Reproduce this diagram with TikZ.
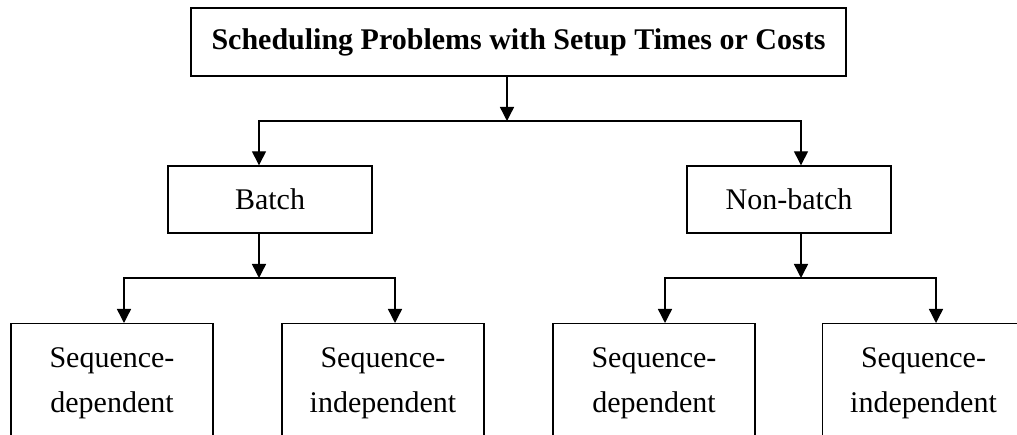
\documentclass[tikz,border=0pt]{standalone}
\usepackage{fontspec}
\setmainfont{Liberation Serif}
\usetikzlibrary{arrows.meta}
\begin{document}
\begin{tikzpicture}[x=1pt,y=-1pt,
  box/.style={draw, line width=1.4pt, inner sep=0pt, align=center, font=\fontsize{30}{45}\selectfont},
  midbox/.style={box, minimum width=204pt, minimum height=67pt},
  leafbox/.style={box, anchor=north, minimum width=202pt, minimum height=120pt},
  arr/.style={line width=1.4pt, -{Triangle[width=14pt,length=14pt]}}]
\useasboundingbox (0,0) rectangle (1017,435);
\clip (0,0) rectangle (1017,435);
% nodes
\node[box, minimum width=655pt, minimum height=68pt, font=\fontsize{30}{36}\selectfont\bfseries] (title) at (518.5,42) {Scheduling Problems with Setup Times or Costs};
\node[midbox] (batch) at (270,199.5) {Batch};
\node[midbox] (nonbatch) at (789,199.5) {Non-batch};
\node[leafbox] (s1) at (112,323) {Sequence-\\dependent};
\node[leafbox] (s2) at (383,323) {Sequence-\\independent};
\node[leafbox] (s3) at (654,323) {Sequence-\\dependent};
\node[leafbox] (s4) at (923.5,323) {Sequence-\\independent};
% junctions and drop positions
\coordinate (j1) at (507,121);
\coordinate (dB) at (259,0);
\coordinate (dN) at (801,0);
\coordinate (j2) at (259,278);
\coordinate (j3) at (801,278);
\coordinate (d1) at (124,0);
\coordinate (d2) at (395,0);
\coordinate (d3) at (665,0);
\coordinate (d4) at (936,0);
% connectors
\draw[arr] (j1 |- title.south) -- (j1);
\draw[arr] (j1) -| (dB |- batch.north);
\draw[arr] (j1) -| (dN |- nonbatch.north);
\draw[arr] (j2 |- batch.south) -- (j2);
\draw[arr] (j2) -| (d1 |- s1.north);
\draw[arr] (j2) -| (d2 |- s2.north);
\draw[arr] (j3 |- nonbatch.south) -- (j3);
\draw[arr] (j3) -| (d3 |- s3.north);
\draw[arr] (j3) -| (d4 |- s4.north);
\end{tikzpicture}
\end{document}
